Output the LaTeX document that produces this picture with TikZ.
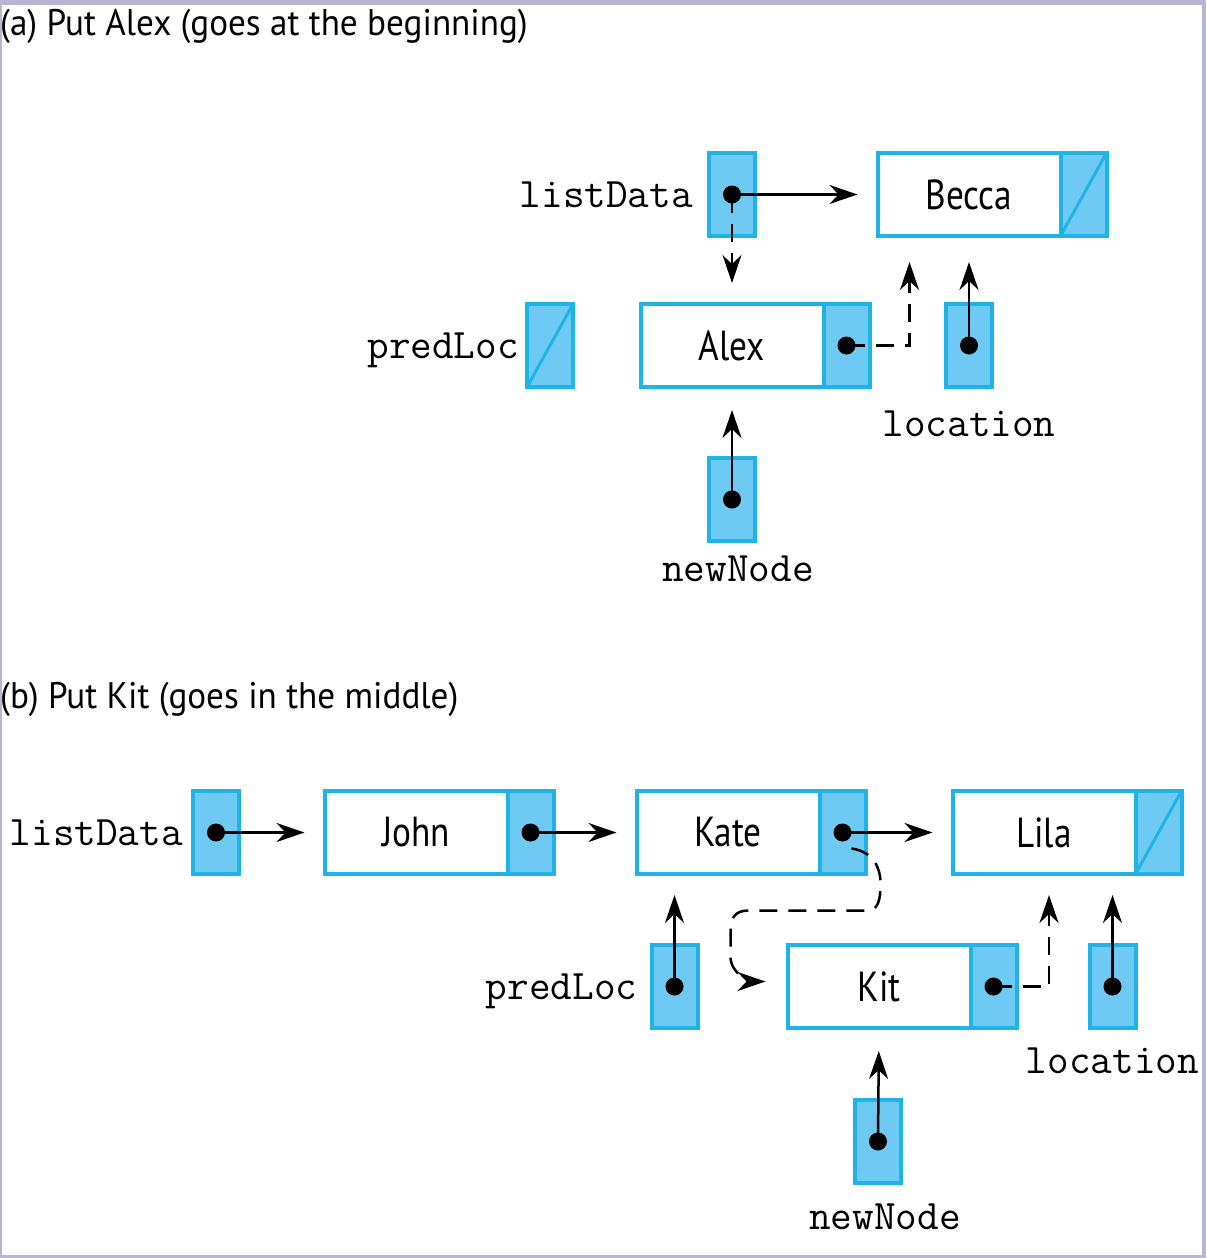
\documentclass[tikz,border=0pt]{standalone}
\usepackage{fontspec}
\newfontfamily\capfont[FakeStretch=0.95]{PT Sans}
\newfontfamily\datafont[FakeStretch=0.84]{PT Sans}
\usetikzlibrary{positioning,arrows.meta}
\definecolor{listblue}{HTML}{1FB3E8}
\definecolor{ptrfill}{HTML}{6ECAF2}
\definecolor{framegray}{HTML}{B9B6D3}
\tikzset{
  info/.style={draw=listblue,fill=white,line width=4pt,minimum width=183pt,minimum height=83pt,
    outer sep=0pt,inner sep=0pt,font=\datafont\fontsize{42}{48}\selectfont},
  ptr/.style={draw=listblue,fill=ptrfill,line width=4pt,minimum width=46pt,minimum height=83pt,
    outer sep=0pt,inner sep=0pt},
  lbl/.style={inner sep=0pt,text depth=0pt,font=\ttfamily\fontsize{42}{48}\selectfont},
  heading/.style={inner sep=0pt,anchor=base west,font=\capfont\fontsize{37}{44}\selectfont},
  link/.style={line width=2.5pt,-{Stealth[length=28pt,width=19pt,inset=9pt]}},
  dsh/.style={link,dash pattern=on 18pt off 11pt},
  nil/.style={listblue,line width=3pt}
}
\begin{document}
\begin{tikzpicture}[x=1pt,y=-1pt]
\useasboundingbox (0,0) rectangle (1206,1258);
\fill[framegray] (0,0) rectangle (1206,1258);
\fill[white] (2,5) rectangle (1202,1255);

% (a) put Alex
\node[heading] at (0,35) {(a) Put Alex (goes at the beginning)};
\node[ptr] (ldA) at (732,194.5) {};
\node[lbl,left=16pt of ldA] {listData};
\node[info] (becca) at (969,194.5) {Becca};
\node[ptr,right=0pt of becca] (beccaN) {};
\node[ptr] (predA) at (550,345.5) {};
\node[lbl,left=8pt of predA] {predLoc};
\node[info] (alex) at (732,345.5) {Alex};
\node[ptr,right=0pt of alex] (alexN) {};
\node[ptr] (locA) at (969,345.5) {};
\node[lbl,below=24pt of locA] {location};
\node[ptr] (newA) at (732,499.5) {};
\node[lbl,below=15pt of newA,xshift=6pt] {newNode};

\draw[link,shorten >=20pt] (ldA.center) -- (becca.west);
\draw[dsh,shorten >=21pt] (ldA.center) -- (alex.north);
\draw[dsh,shorten >=26pt] (alexN.center) -| ([xshift=32pt]becca.south west);
\draw[link,shorten >=26pt] (locA.center) -- (becca.south);
\draw[link,shorten >=23pt] (newA.center) -- (alex.south);

% (b) put Kit
\node[heading] at (0,708) {(b) Put Kit (goes in the middle)};
\node[ptr] (ldB) at (216,832.5) {};
\node[lbl,left=10pt of ldB] {listData};
\node[info] (john) at (416,832.5) {John};
\node[ptr,right=0pt of john] (johnN) {};
\node[info] (kate) at (728,832.5) {Kate};
\node[ptr,right=0pt of kate] (kateN) {};
\node[info] (lila) at (1044,832.5) {Lila};
\node[ptr,right=0pt of lila] (lilaN) {};
\node[ptr] (predB) at (674.5,986.5) {};
\node[lbl,left=14pt of predB] {predLoc};
\node[info] (kit) at (879,986.5) {Kit};
\node[ptr,right=0pt of kit] (kitN) {};
\node[ptr] (locB) at (1112.5,986.5) {};
\node[lbl,below=20pt of locB] {location};
\node[ptr] (newB) at (878,1141.5) {};
\node[lbl,below=21pt of newB,xshift=7pt] {newNode};

\draw[link,shorten >=20pt] (ldB.center) -- (john.west);
\draw[link,shorten >=20pt] (johnN.center) -- (kate.west);
\draw[link,shorten >=20pt] (kateN.center) -- (lila.west);
\draw[link,shorten >=21pt] (predB.center) -- (predB.center |- kate.south);
\draw[link,shorten >=21pt] (locB.center) -- (locB.center |- lila.south);
\draw[dsh,shorten >=21pt] (kitN.center) -| ([xshift=5pt]lila.south);
\draw[link,shorten >=23pt] (newB.center) -- (kit.south);
\draw[dsh] (kateN.center) ++(9,16) .. controls +(22,3) and +(0,-14) .. ++(29,34)
  .. controls +(0,18) and +(12,0) .. ++(-14,28) -- ++(-118,0)
  .. controls +(-14,0) and +(0,-12) .. ++(-18,20) -- ++(0,26)
  .. controls +(0,18) and +(-14,0) .. ([shift={(-22,-5)}]kit.west);

% pointer dots and null links
\foreach \p in {ldA,alexN,locA,newA,ldB,johnN,kateN,kitN,predB,locB,newB}
  \fill (\p.center) circle (9pt);
\foreach \p in {beccaN,predA,lilaN}
  \draw[nil] (\p.south west) -- (\p.north east);
\end{tikzpicture}
\end{document}
